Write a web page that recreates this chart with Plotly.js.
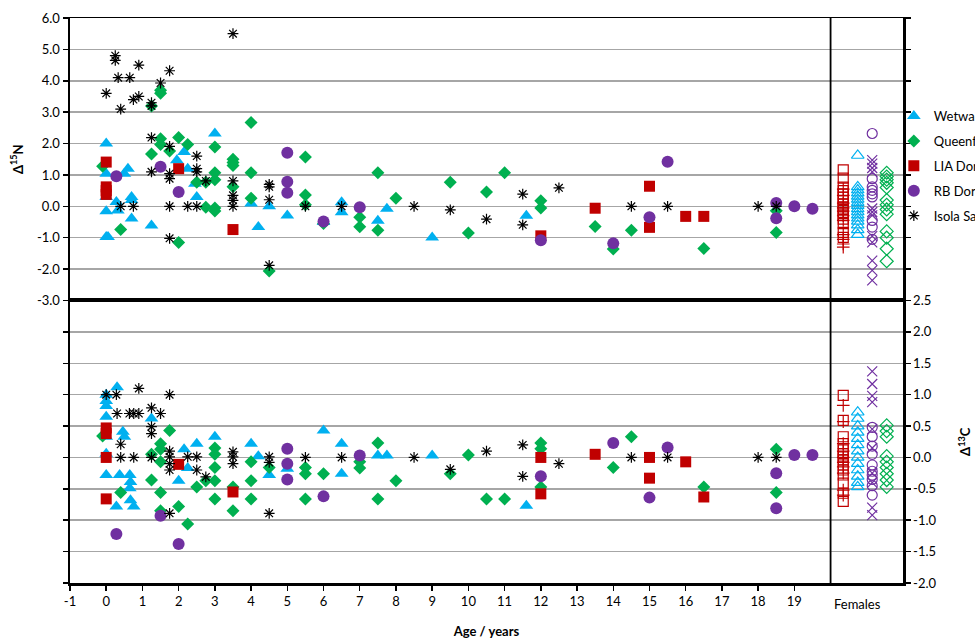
<!DOCTYPE html>
<html><head><meta charset="utf-8">
<script src="https://cdn.plot.ly/plotly-3.0.1.min.js"></script>
<style>html,body{margin:0;padding:0;background:#fff}#chart{width:975px;height:639px}</style>
</head><body><div id="chart"></div>
<script>
// ---------- DATA ----------
const seriesNames = ['Wetwang', 'Queenford', 'LIA Dorset', 'RB Dorset', 'Isola Sacra'];

// Δ15N (top panel)
const ageN_wet = [0, 0, 0, 0, 0, 0.05, 0.28, 0.32, 0.5, 0.6, 0.7, 0.7, 0.7, 1.25, 1.95, 2.15, 2.25, 2.45, 2.5, 3.0, 4.0, 4.2, 4.5, 5.0, 6.0, 6.5, 6.5, 7.5, 7.75, 9.0, 11.6];
const dN_wet   = [2.0, 1.04, 0.3, -0.16, -0.98, -0.98, 0.14, -0.13, 1.04, 1.2, 0.3, 0.2, -0.39, -0.61, 1.47, 1.73, 1.2, 0.72, 0.3, 2.32, 0.09, -0.66, 0.0, -0.29, -0.5, 0.13, -0.19, -0.46, -0.08, -0.99, -0.3];
const ageN_que = [-0.1, 0.4, 1.25, 1.25, 1.5, 1.5, 1.5, 1.5, 1.75, 2.0, 2.0, 2.25, 2.5, 2.75, 2.75, 3.0, 3.0, 3.0, 3.0, 3.0, 3.5, 3.5, 3.5, 3.5, 4.0, 4.0, 4.0, 4.5, 5.5, 5.5, 5.5, 6.0, 7.0, 7.0, 7.5, 7.5, 8.0, 9.5, 10.0, 10.5, 11.0, 12.0, 12.0, 13.5, 14.0, 14.5, 16.5, 18.5, 18.5];
const dN_que   = [1.28, -0.74, 3.2, 1.67, 3.7, 3.6, 2.15, 1.97, 1.76, 2.19, -1.15, 1.97, 0.77, 0.77, -0.03, 1.89, 1.07, 0.85, -0.05, -0.15, 1.5, 1.4, 1.3, 0.62, 2.67, 1.07, 0.26, -2.06, 1.57, 0.36, 0.05, -0.55, -0.35, -0.65, 1.07, -0.76, 0.26, 0.77, -0.85, 0.46, 1.07, 0.18, -0.05, -0.64, -1.36, -0.76, -1.34, -0.14, -0.83];
const ageN_lia = [0, 0, 0, 0, 2.0, 3.5, 12.0, 13.5, 15.0, 15.0, 16.0, 16.5];
const dN_lia   = [1.41, 0.62, 0.5, 0.38, 1.2, -0.74, -0.94, -0.06, 0.64, -0.67, -0.32, -0.32];
const ageN_rb  = [0.28, 1.5, 2.0, 5.0, 5.0, 5.0, 6.0, 7.0, 12.0, 14.0, 15.0, 15.5, 18.5, 18.5, 19.0, 19.5];
const dN_rb    = [0.96, 1.26, 0.46, 1.71, 0.78, 0.43, -0.48, -0.03, -1.08, -1.18, -0.35, 1.42, 0.11, -0.38, 0.0, -0.08];
const ageN_iso = [0, 0.25, 0.25, 0.33, 0.4, 0.4, 0.65, 0.75, 0.75, 0.9, 0.9, 1.25, 1.25, 1.25, 1.25, 1.5, 1.75, 1.75, 1.75, 1.75, 1.75, 1.75, 2.25, 2.5, 2.5, 2.5, 2.5, 2.75, 3.5, 3.5, 3.5, 3.5, 3.5, 4.5, 4.5, 4.5, 4.5, 5.5, 6.5, 8.5, 9.5, 10.5, 11.5, 11.5, 12.5, 14.5, 15.5, 18.0, 18.5];
const dN_iso   = [3.6, 4.8, 4.65, 4.1, 3.1, 0.0, 4.1, 3.4, 0.0, 3.5, 4.5, 3.3, 3.2, 2.19, 1.1, 3.93, 4.32, 1.91, 1.04, 0.88, 0.0, -1.02, 0.0, 1.6, 1.2, 1.1, 0.0, 0.81, 5.5, 0.81, 0.35, 0.19, 0.0, 0.7, 0.62, 0.21, -1.88, 0.0, 0.0, 0.0, -0.11, -0.41, 0.39, -0.59, 0.59, 0.0, 0.0, 0.0, 0.0];

// Δ13C (bottom panel)
const ageC_wet = [0, 0, 0, 0, 0, 0, 0, 0.3, 0.28, 0.37, 0.46, 0.5, 0.65, 0.67, 0.65, 0.67, 0.76, 1.25, 2.0, 2.15, 2.25, 2.5, 3.0, 4.0, 4.2, 4.5, 5.0, 6.0, 6.5, 6.5, 7.5, 7.75, 9.0, 11.6];
const dC_wet   = [1.0, 0.9, 0.82, 0.65, 0.33, 0.06, -0.28, 1.12, -0.78, -0.28, 0.41, 0.33, -0.28, -0.39, -0.49, -0.68, -0.78, 0.62, -0.37, 0.13, -0.17, 0.22, 0.33, 0.22, 0.02, -0.28, -0.18, 0.43, 0.22, -0.26, 0.03, 0.03, 0.03, -0.77];
const ageC_que = [-0.1, 0.4, 1.25, 1.25, 1.5, 1.5, 1.5, 1.5, 1.5, 1.75, 2.0, 2.25, 2.5, 2.75, 3.0, 3.0, 3.0, 3.0, 3.0, 3.5, 3.5, 4.0, 4.0, 4.0, 4.5, 5.5, 5.5, 5.5, 6.0, 7.0, 7.0, 7.5, 7.5, 8.0, 9.5, 10.0, 10.5, 11.0, 12.0, 12.0, 12.0, 14.0, 14.5, 16.5, 18.5, 18.5];
const dC_que   = [0.34, -0.56, 0.05, -0.36, 0.22, 0.13, -0.07, -0.56, -0.85, 0.43, -0.78, -1.06, -0.47, -0.37, 0.15, 0.05, -0.16, -0.37, -0.66, -0.47, -0.85, -0.07, -0.37, -0.66, -0.16, -0.16, -0.26, -0.66, -0.26, -0.07, -0.17, 0.23, -0.66, -0.37, -0.26, 0.04, -0.66, -0.66, 0.23, 0.14, -0.47, -0.16, 0.33, -0.47, 0.13, -0.56];
const ageC_lia = [0, 0, 0, 0, 2.0, 3.5, 12.0, 12.0, 13.5, 15.0, 15.0, 16.0, 16.5];
const dC_lia   = [0.47, 0.38, 0.0, -0.66, -0.11, -0.55, 0.0, -0.58, 0.05, 0.0, -0.33, -0.07, -0.63];
const ageC_rb  = [0.28, 1.5, 2.0, 5.0, 5.0, 5.0, 6.0, 7.0, 12.0, 14.0, 15.0, 15.5, 18.5, 18.5, 19.0, 19.5];
const dC_rb    = [-1.22, -0.93, -1.38, 0.14, -0.1, -0.35, -0.62, 0.03, -0.3, 0.23, -0.64, 0.16, -0.25, -0.81, 0.04, 0.04];
const ageC_iso = [0, 0.28, 0.9, 0.3, 0.64, 0.76, 0.9, 0.4, 0.4, 0.76, 1.25, 1.25, 1.25, 1.5, 1.75, 1.25, 1.75, 1.75, 1.75, 1.75, 1.75, 2.25, 2.5, 2.5, 2.75, 3.5, 3.5, 3.5, 4.5, 4.5, 4.5, 5.5, 6.5, 8.5, 9.5, 10.5, 11.5, 11.5, 12.5, 14.5, 15.5, 18.0, 18.5];
const dC_iso   = [1.0, 1.0, 1.1, 0.7, 0.7, 0.7, 0.7, 0.21, 0.0, 0.0, 0.79, 0.49, 0.38, 0.7, 1.0, 0.0, 0.1, 0.01, -0.1, -0.2, -0.89, 0.01, 0.01, -0.2, -0.31, 0.09, 0.01, -0.1, 0.01, -0.08, -0.89, 0.0, 0.0, 0.0, -0.19, 0.1, 0.2, -0.3, -0.1, 0.0, 0.0, 0.0, 0.0];

// Females (adult female reference values)
const femN_liaSq  = [1.16, 0.9, 0.61, 0.5, 0.4, 0.29, 0.18, 0.07, -0.02, -0.1, -0.2, -0.3, -0.41, -0.55, -0.83, -0.99];
const femN_liaX   = [0.55, 0.35, 0.1, -0.05, -0.15, -0.3, -0.45, -0.9, -1.05, -1.2, -1.3];
const femN_wet    = [1.62, 0.62, 0.52, 0.42, 0.32, 0.22, 0.12, 0.02, -0.08, -0.18, -0.28, -0.38, -0.48, -0.6, -0.75, -0.9];
const femN_rbO    = [2.32, 0.88, 0.62, 0.51, 0.4, 0.3, -0.45, -0.66, -1.05];
const femN_rbX    = [1.47, 1.36, 1.22, 1.1, -0.07, -0.18, -0.29, -0.95, -1.15, -1.73, -2.04, -2.36];
const femN_que    = [1.07, 0.95, 0.85, 0.75, 0.6, 0.2, 0.05, -0.1, -0.25, -0.8, -1.0, -1.35, -1.75];
const femC_liaSq  = [0.99, 0.59, 0.33, 0.22, 0.12, 0.06, 0.01, -0.04, -0.12, -0.2, -0.28, -0.41, -0.57, -0.7];
const femC_liaX   = [0.83, 0.57, 0.22, 0.1, 0.0, -0.08, -0.15, -0.25, -0.52, -0.6];
const femC_wet    = [0.72, 0.62, 0.5, 0.4, 0.3, 0.2, 0.1, 0.0, -0.1, -0.2, -0.3, -0.4, -0.47];
const femC_rbO    = [0.48, 0.33, 0.18, 0.05, -0.12, -0.22, -0.28, -0.35, -0.45, -0.6];
const femC_rbX    = [1.37, 1.17, 0.98, 0.88, 0.45, 0.15, -0.25, -0.4, -0.8, -0.92];
const femC_que    = [0.51, 0.42, 0.33, 0.02, -0.07, -0.16, -0.26, -0.36, -0.47];

// Axis ticks
const xTickVals = [-1,0,1,2,3,4,5,6,7,8,9,10,11,12,13,14,15,16,17,18,19];
const yN_ticks = [-3,-2,-1,0,1,2,3,4,5,6];
const yC_ticks = [-2,-1.5,-1,-0.5,0,0.5,1,1.5,2,2.5];
const femaleLabel = 'Females';

// ---------- STYLE ----------
const FONT = 'Lato, "Open Sans", sans-serif';
const COL = {wet:'#00b0f0', que:'#00b050', lia:'#c00000', rb:'#7030a0', iso:'#000000'};
const FEM_X = {lia:20.35, wet:20.75, rb:21.15, que:21.55, label:20.75, divider:20};

function pt(x, y, name, color, symbol, size, top, showLegend, lineW) {
  return {
    type:'scatter', mode:'markers', x:x, y:y, name:name,
    xaxis: top ? 'x2' : 'x', yaxis: top ? 'y' : 'y2',
    legendgroup: name, showlegend: !!showLegend, cliponaxis:false,
    marker:{color:color, symbol:symbol, size:size, line:{color:color, width: lineW === undefined ? 0 : lineW}},
    hoverinfo:'x+y'
  };
}
const fx = (arr, v) => arr.map(() => v);

const traces = [
  pt(ageN_wet, dN_wet, seriesNames[0], COL.wet, 'triangle-up', 12, true, true),
  pt(ageN_que, dN_que, seriesNames[1], COL.que, 'diamond', 10, true, true),
  pt(ageN_lia, dN_lia, seriesNames[2], COL.lia, 'square', 11, true, true),
  pt(ageN_rb,  dN_rb,  seriesNames[3], COL.rb,  'circle', 12, true, true),
  pt(ageN_iso, dN_iso, seriesNames[4], COL.iso, 'asterisk-open', 9, true, true, 1.2),

  pt(ageC_wet, dC_wet, seriesNames[0], COL.wet, 'triangle-up', 12, false, false),
  pt(ageC_que, dC_que, seriesNames[1], COL.que, 'diamond', 10, false, false),
  pt(ageC_lia, dC_lia, seriesNames[2], COL.lia, 'square', 11, false, false),
  pt(ageC_rb,  dC_rb,  seriesNames[3], COL.rb,  'circle', 12, false, false),
  pt(ageC_iso, dC_iso, seriesNames[4], COL.iso, 'asterisk-open', 9, false, false, 1.2),

  pt(fx(femN_liaSq, FEM_X.lia), femN_liaSq, 'LIA Dorset females', COL.lia, 'square-open', 10, true, false, 1.2),
  pt(fx(femN_liaX, FEM_X.lia),  femN_liaX,  'LIA Dorset females +', COL.lia, 'cross-thin-open', 9, true, false, 1.2),
  pt(fx(femN_wet, FEM_X.wet),   femN_wet,   'Wetwang females', COL.wet, 'triangle-up-open', 11, true, false, 1.2),
  pt(fx(femN_rbO, FEM_X.rb),    femN_rbO,   'RB Dorset females', COL.rb, 'circle-open', 10, true, false, 1.2),
  pt(fx(femN_rbX, FEM_X.rb),    femN_rbX,   'RB Dorset females x', COL.rb, 'x-thin-open', 10, true, false, 1.2),
  pt(fx(femN_que, FEM_X.que),   femN_que,   'Queenford females', COL.que, 'diamond-open', 10, true, false, 1.2),

  pt(fx(femC_liaSq, FEM_X.lia), femC_liaSq, 'LIA Dorset females', COL.lia, 'square-open', 10, false, false, 1.2),
  pt(fx(femC_liaX, FEM_X.lia),  femC_liaX,  'LIA Dorset females +', COL.lia, 'cross-thin-open', 9, false, false, 1.2),
  pt(fx(femC_wet, FEM_X.wet),   femC_wet,   'Wetwang females', COL.wet, 'triangle-up-open', 11, false, false, 1.2),
  pt(fx(femC_rbO, FEM_X.rb),    femC_rbO,   'RB Dorset females', COL.rb, 'circle-open', 10, false, false, 1.2),
  pt(fx(femC_rbX, FEM_X.rb),    femC_rbX,   'RB Dorset females x', COL.rb, 'x-thin-open', 10, false, false, 1.2),
  pt(fx(femC_que, FEM_X.que),   femC_que,   'Queenford females', COL.que, 'diamond-open', 10, false, false, 1.2)
];

const GRID = '#a6a6a6';
const tickFont = {family: FONT, size: 13, color:'#000'};
const layout = {
  width: 975, height: 639,
  margin: {l:70, r:72, t:18, b:56, autoexpand:false},
  paper_bgcolor:'#fff', plot_bgcolor:'#fff',
  font: {family: FONT, size: 13, color:'#000'},
  showlegend: true,
  legend: {x:0.989, xanchor:'left', y:0.853, yanchor:'top', traceorder:'grouped', tracegroupgap:5,
           bgcolor:'rgba(0,0,0,0)', font:{family:FONT, size:13}},
  xaxis: {domain:[0,1], anchor:'y2', range:[-1,22], automargin:false, tickvals:xTickVals, ticktext:xTickVals.map(String),
          ticks:'outside', ticklen:5, tickwidth:1.5, tickcolor:'#000', showgrid:false, zeroline:false,
          showline:true, linecolor:'#000', linewidth:2.5, mirror:true, tickfont:tickFont,
          title:{text:'<b>Age / years</b>', font:{family:FONT, size:13}, standoff:20}},
  xaxis2: {domain:[0,1], anchor:'y', matches:'x', range:[-1,22], automargin:false, showticklabels:false, ticks:'',
           showgrid:false, zeroline:false, showline:true, linecolor:'#000', linewidth:1.5, mirror:true},
  yaxis: {domain:[0.5,1], anchor:'x2', range:[-3,6], automargin:false, tickvals:yN_ticks, ticktext:yN_ticks.map(v => v.toFixed(1)),
          ticks:'outside', ticklen:5, tickwidth:1.5, tickcolor:'#000', showgrid:true, gridcolor:GRID, gridwidth:1.5,
          zeroline:false, showline:true, linecolor:'#000', linewidth:2.5, mirror:'ticks', tickfont:tickFont,
          title:{text:'<b>Δ<sup>15</sup>N</b>', font:{family:FONT, size:13}, standoff:11}},
  yaxis2: {domain:[0,0.5], anchor:'x', side:'right', range:[-2,2.5], automargin:false, tickvals:yC_ticks, ticktext:yC_ticks.map(v => v.toFixed(1)),
           ticks:'outside', ticklen:5, tickwidth:1.5, tickcolor:'#000', showgrid:true, gridcolor:GRID, gridwidth:1.5,
           zeroline:false, showline:true, linecolor:'#000', linewidth:2.5, mirror:'ticks', tickfont:tickFont,
           title:{text:'<b>Δ<sup>13</sup>C</b>', font:{family:FONT, size:13}, standoff:26}},
  shapes: [
    {type:'line', xref:'x', yref:'paper', x0:FEM_X.divider, x1:FEM_X.divider, y0:0, y1:1, line:{color:'#000', width:1.8}}
  ],
  annotations: [
    {xref:'x', yref:'paper', x:FEM_X.label, y:0, yshift:-21, text:femaleLabel, showarrow:false,
     font:{family:FONT, size:13, color:'#000'}, yanchor:'middle'}
  ]
};

Plotly.newPlot('chart', traces, layout, {displayModeBar:false, staticPlot:true});
</script>
</body></html>
